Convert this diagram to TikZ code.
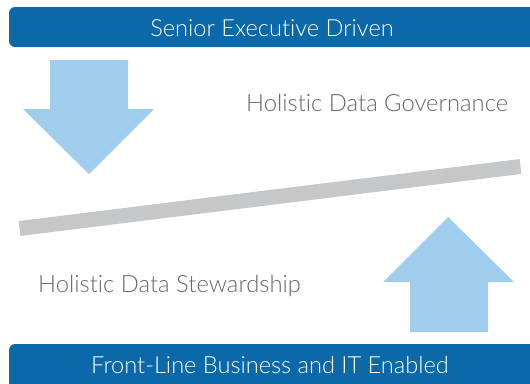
\documentclass[tikz,border=0pt]{standalone}
\usepackage{fontspec}
\setmainfont{Lato}[UprightFont=* Light, Ligatures=NoCommon]
\definecolor{barblue}{HTML}{0B69AA}
\definecolor{arrowblue}{HTML}{A0CDEC}
\definecolor{beamgray}{HTML}{C6C7C8}
\definecolor{textgray}{HTML}{666666}
\tikzset{
  band/.style={fill=barblue, draw=none, rounded corners=6pt},
  bandtext/.style={text=white, font=\fontsize{23.6}{26}\selectfont, inner sep=0pt},
  bigarrow/.style={fill=arrowblue, draw=none},
  label/.style={text=textgray, font=\fontsize{23.8}{26}\selectfont, inner sep=0pt, anchor=west},
  beam/.style={draw=beamgray, line width=15pt, line cap=butt}
}
\begin{document}
\begin{tikzpicture}[x=1pt,y=-1pt]
\useasboundingbox (0,0) rectangle (530,383);
% top band
\fill[band] (9,7) rectangle (545,47);
\node[bandtext] (top) at (272,28) {Senior Executive Driven};
% bottom band
\fill[band] (9,344) rectangle (545,398);
\node[bandtext] (bot) at (270,365) {Front-Line Business and IT Enabled};
% down arrow
\fill[bigarrow] (50,60) -- (128,60) -- (128,109) -- (154,109) -- (89,174) -- (23,109) -- (50,109) -- cycle;
% up arrow
\fill[bigarrow] (410,332) -- (488,332) -- (488,282) -- (514,282) -- (448,217) -- (383,282) -- (410,282) -- cycle;
% beam
\coordinate (bl) at (19.5,228.5);
\coordinate (br) at (520.5,166.5);
\draw[beam] (bl) -- (br);
% labels
\node[label] (gov) at (246,103) {Holistic Data Governance};
\node[label] (stew) at (38,286) {Holistic Data Stewardship};
\end{tikzpicture}
\end{document}
